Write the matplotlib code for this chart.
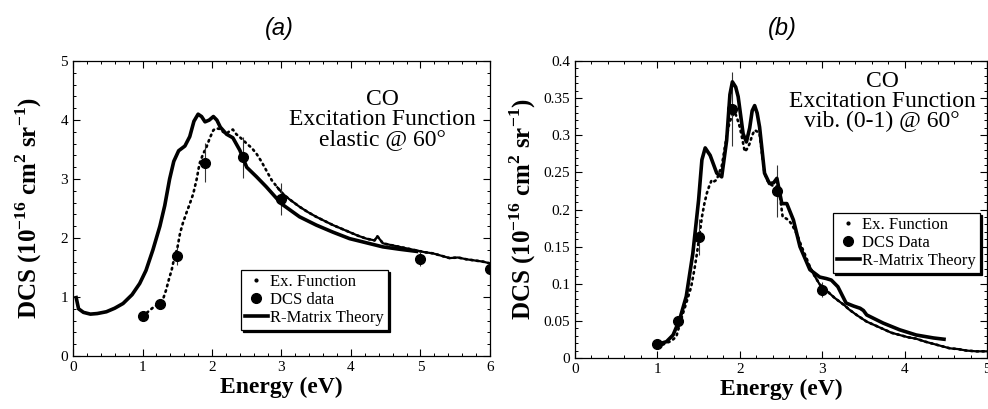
import numpy as np
import matplotlib
matplotlib.use("Agg")
import matplotlib.pyplot as plt
from matplotlib.lines import Line2D
from matplotlib.ticker import MultipleLocator, FormatStrFormatter

OUT_FILE = "out.png"

# (a) elastic @ 60 deg
THEORY_A_X = [0.04, 0.08, 0.15, 0.25, 0.35, 0.48, 0.60, 0.72, 0.85, 0.96, 1.05, 1.15, 1.25, 1.32,
	1.39, 1.45, 1.52, 1.61, 1.68, 1.74, 1.80, 1.85, 1.90, 1.96, 2.02, 2.07, 2.12, 2.21, 2.30,
	2.40, 2.50, 2.64, 2.78, 3.00, 3.26, 3.50, 3.74, 3.98, 4.22, 4.46, 4.70, 4.97]
THEORY_A_Y = [1.02, 0.80, 0.74, 0.71, 0.72, 0.75, 0.81, 0.89, 1.04, 1.23, 1.45, 1.80, 2.20, 2.55,
	3.00, 3.30, 3.48, 3.56, 3.72, 3.98, 4.10, 4.06, 3.97, 4.00, 4.06, 4.00, 3.88, 3.76, 3.70,
	3.49, 3.20, 3.04, 2.87, 2.58, 2.36, 2.22, 2.10, 1.99, 1.92, 1.85, 1.81, 1.77]

EXF_A_X = [1.00, 1.05, 1.10, 1.15, 1.20, 1.25, 1.30, 1.34, 1.38, 1.42, 1.46, 1.50, 1.54, 1.58,
	1.63, 1.68, 1.73, 1.78, 1.82, 1.87, 1.92, 1.97, 2.02, 2.06, 2.11, 2.16, 2.21, 2.26, 2.30,
	2.35, 2.40, 2.45, 2.50, 2.57, 2.64, 2.71, 2.78, 2.86, 2.94, 3.02, 3.10, 3.18, 3.26, 3.38,
	3.50, 3.62, 3.74, 3.86, 3.98, 4.10, 4.22, 4.34, 4.38, 4.46, 4.58, 4.70, 4.82, 4.94, 5.06,
	5.18, 5.30, 5.42, 5.54, 5.66, 5.78, 5.90, 6.00]
EXF_A_Y = [0.67, 0.72, 0.77, 0.82, 0.86, 0.89, 0.98, 1.12, 1.30, 1.46, 1.68, 1.82, 2.08, 2.25,
	2.42, 2.58, 2.75, 3.00, 3.26, 3.42, 3.54, 3.70, 3.83, 3.86, 3.85, 3.80, 3.77, 3.82, 3.84,
	3.76, 3.71, 3.66, 3.60, 3.53, 3.43, 3.30, 3.15, 2.98, 2.86, 2.75, 2.67, 2.60, 2.53, 2.44,
	2.36, 2.29, 2.22, 2.16, 2.10, 2.04, 1.99, 1.96, 2.03, 1.91, 1.88, 1.85, 1.82, 1.79, 1.76,
	1.74, 1.70, 1.66, 1.67, 1.64, 1.62, 1.60, 1.57]

DCS_A_X = [1.0, 1.25, 1.5, 1.9, 2.45, 3.0, 5.0, 6.0]
DCS_A_Y = [0.68, 0.88, 1.70, 3.28, 3.37, 2.66, 1.65, 1.48]
DCS_A_ERR = [0.05, 0.07, 0.15, 0.33, 0.35, 0.27, 0.12, 0.08]

# (b) vib. (0-1) @ 60 deg
THEORY_B_X = [1.00, 1.05, 1.11, 1.19, 1.27, 1.35, 1.43, 1.50, 1.54, 1.58, 1.64, 1.72, 1.78, 1.84,
	1.88, 1.91, 1.95, 1.98, 2.04, 2.08, 2.12, 2.15, 2.18, 2.21, 2.24, 2.30, 2.36, 2.41, 2.45,
	2.48, 2.51, 2.57, 2.65, 2.73, 2.85, 2.97, 3.05, 3.11, 3.19, 3.29, 3.38, 3.46, 3.50, 3.54,
	3.74, 3.94, 4.14, 4.35, 4.50]
THEORY_B_Y = [0.019, 0.020, 0.022, 0.031, 0.052, 0.083, 0.141, 0.213, 0.267, 0.283, 0.273, 0.249,
	0.244, 0.293, 0.355, 0.372, 0.365, 0.352, 0.302, 0.291, 0.310, 0.333, 0.340, 0.330, 0.311,
	0.249, 0.235, 0.236, 0.242, 0.225, 0.208, 0.208, 0.186, 0.150, 0.119, 0.109, 0.107, 0.105,
	0.096, 0.074, 0.070, 0.067, 0.064, 0.058, 0.047, 0.038, 0.031, 0.027, 0.025]

EXF_B_X = [1.00, 1.05, 1.10, 1.15, 1.19, 1.23, 1.27, 1.31, 1.35, 1.41, 1.45, 1.48, 1.51, 1.54,
	1.57, 1.60, 1.63, 1.66, 1.69, 1.72, 1.75, 1.78, 1.81, 1.84, 1.87, 1.90, 1.94, 1.97, 2.00,
	2.03, 2.06, 2.09, 2.12, 2.15, 2.18, 2.21, 2.24, 2.27, 2.30, 2.33, 2.36, 2.40, 2.45, 2.49,
	2.52, 2.56, 2.59, 2.63, 2.67, 2.71, 2.75, 2.80, 2.85, 2.90, 2.97, 3.03, 3.09, 3.15, 3.21,
	3.27, 3.33, 3.43, 3.54, 3.64, 3.74, 3.84, 3.94, 4.04, 4.14, 4.25, 4.35, 4.45, 4.55, 4.65,
	4.75, 4.87, 4.99]
EXF_B_Y = [0.019, 0.017, 0.020, 0.022, 0.025, 0.029, 0.045, 0.060, 0.074, 0.096, 0.120, 0.141,
	0.165, 0.190, 0.208, 0.222, 0.232, 0.240, 0.238, 0.240, 0.250, 0.258, 0.278, 0.298, 0.315,
	0.325, 0.331, 0.322, 0.311, 0.295, 0.278, 0.282, 0.289, 0.300, 0.307, 0.305, 0.302, 0.275,
	0.249, 0.240, 0.235, 0.232, 0.231, 0.215, 0.190, 0.188, 0.186, 0.180, 0.172, 0.162, 0.150,
	0.137, 0.123, 0.112, 0.099, 0.093, 0.087, 0.081, 0.076, 0.071, 0.065, 0.057, 0.049, 0.044,
	0.039, 0.034, 0.031, 0.028, 0.026, 0.022, 0.019, 0.016, 0.013, 0.012, 0.010, 0.009, 0.009]

DCS_B_X = [1.0, 1.25, 1.5, 1.9, 2.45, 3.0]
DCS_B_Y = [0.019, 0.050, 0.163, 0.335, 0.225, 0.092]
DCS_B_ERR = [0.002, 0.005, 0.024, 0.05, 0.035, 0.01]

LABELS_A = ["Ex. Function", "DCS data", "R-Matrix Theory"]
LABELS_B = ["Ex. Function", "DCS Data", "R-Matrix Theory"]
NOTE_A = "CO\nExcitation Function\nelastic @ 60\u00b0"
NOTE_B = "CO\nExcitation Function\nvib. (0-1) @ 60\u00b0"
YLABEL = r"DCS (10$^{\mathbf{-16}}$ cm$^{\mathbf{2}}$ sr$^{\mathbf{-1}}$)"

plt.rcParams['font.family'] = ['Liberation Serif', 'DejaVu Serif']
plt.rcParams['mathtext.fontset'] = 'custom'
plt.rcParams['mathtext.rm'] = 'Liberation Serif'
plt.rcParams['mathtext.bf'] = 'Liberation Serif:bold'
plt.rcParams['axes.linewidth'] = 0.9


def panel(fig, rect, tx, ty, ex, ey, dx, dy, derr, dense_from, pad):
	'''
	Draws one excitation function panel, returns the axes
	'''
	ax = fig.add_axes(rect)
	ex = np.array(ex)
	ey = np.array(ey)
	# sparse dotted part, then the dense noisy part
	ax.plot(ex, ey, color='black', lw=1.9, ls=(0, (0.6, 1.6)), dash_capstyle='round')
	mask = ex >= dense_from
	ax.plot(ex[mask], ey[mask], color='black', lw=1.6)
	ax.errorbar(dx, dy, yerr=derr, fmt='none', ecolor='#333333', elinewidth=0.8, capsize=0)
	ax.plot(dx, dy, 'o', color='black', ms=7, ls='none')
	ax.plot(tx, ty, color='black', lw=2.6, solid_capstyle='butt')
	ax.tick_params(which='both', direction='in', top=True, right=True, labelsize=11)
	ax.tick_params(which='major', length=5, width=0.8)
	ax.tick_params(which='minor', length=2.5, width=0.7)
	ax.set_xlabel("Energy (eV)", fontsize=17, fontweight='bold', labelpad=2)
	ax.set_ylabel(YLABEL, fontsize=18, fontweight='bold', labelpad=pad)
	return ax


def legend(fig, ax, labels, anchor):
	handles = [Line2D([], [], color='black', marker='o', ms=2, ls='none'),
		Line2D([], [], color='black', marker='o', ms=7, ls='none'),
		Line2D([], [], color='black', lw=2.6)]
	leg = ax.legend(handles, labels, loc='upper left', bbox_to_anchor=anchor,
		bbox_transform=fig.transFigure, fontsize=12, frameon=True, fancybox=False,
		shadow={'color': 'black', 'alpha': 1.0, 'ox': 1.4, 'oy': -1.4}, edgecolor='black',
		framealpha=1, borderpad=0.25, labelspacing=0.12, handlelength=1.35,
		handletextpad=0.15, borderaxespad=0)
	leg.get_frame().set_linewidth(0.9)


fig = plt.figure(figsize=(9.88, 4.09), dpi=100)

ax = panel(fig, [0.0739, 0.1296, 0.422, 0.721], THEORY_A_X, THEORY_A_Y, EXF_A_X, EXF_A_Y,
	DCS_A_X, DCS_A_Y, DCS_A_ERR, 2.9, 12)
ax.set_xlim(0, 6)
ax.set_ylim(0, 5)
ax.xaxis.set_major_locator(MultipleLocator(1))
ax.xaxis.set_minor_locator(MultipleLocator(0.2))
ax.yaxis.set_major_locator(MultipleLocator(1))
ax.yaxis.set_minor_locator(MultipleLocator(0.2))
ax.text(0.743, 0.905, NOTE_A, transform=ax.transAxes, ha='center', va='top', fontsize=17,
	linespacing=0.92)
legend(fig, ax, LABELS_A, (0.244, 0.340))

ax = panel(fig, [0.582, 0.1247, 0.417, 0.726], THEORY_B_X, THEORY_B_Y, EXF_B_X, EXF_B_Y,
	DCS_B_X, DCS_B_Y, DCS_B_ERR, 2.85, 4)
ax.set_xlim(0, 5)
ax.set_ylim(0, 0.4)
ax.xaxis.set_major_locator(MultipleLocator(1))
ax.xaxis.set_minor_locator(MultipleLocator(0.2))
ax.yaxis.set_major_locator(MultipleLocator(0.05))
ax.yaxis.set_minor_locator(MultipleLocator(0.01))
ax.yaxis.set_major_formatter(FormatStrFormatter('%g'))
ax.text(0.745, 0.965, NOTE_B, transform=ax.transAxes, ha='center', va='top', fontsize=17,
	linespacing=0.92)
legend(fig, ax, LABELS_B, (0.843, 0.479))

fig.text(279 / 988, 1 - 29 / 409, "(a)", ha='center', va='center', fontsize=17,
	style='italic', family=['Liberation Sans', 'DejaVu Sans'])
fig.text(782 / 988, 1 - 29 / 409, "(b)", ha='center', va='center', fontsize=17,
	style='italic', family=['Liberation Sans', 'DejaVu Sans'])

fig.savefig(OUT_FILE, dpi=100)
